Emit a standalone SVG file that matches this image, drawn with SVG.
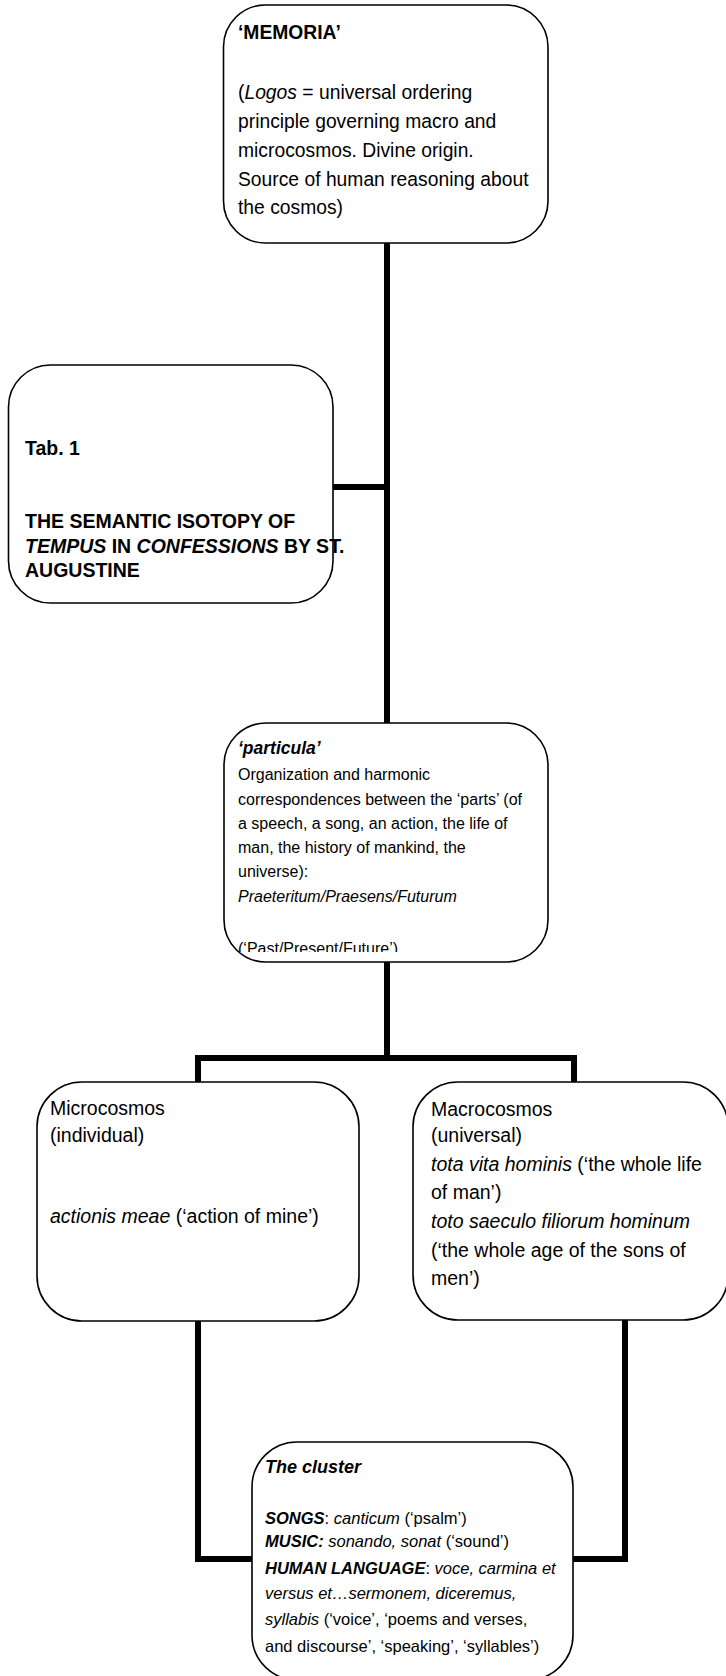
<svg xmlns="http://www.w3.org/2000/svg" width="726" height="1676" viewBox="0 0 726 1676">
<style>
.box{fill:#fff;stroke:#000;stroke-width:1.6}
.con{fill:none;stroke:#000;stroke-width:6;stroke-linejoin:miter;stroke-linecap:butt}
text{font-family:"Liberation Sans",Arial,sans-serif;fill:#000}
.b{font-weight:bold}
.i{font-style:italic}
</style>
<defs>
<clipPath id="clipP"><rect x="224" y="723" width="324" height="229"/></clipPath>
</defs>
<rect width="726" height="1676" fill="#fff"/>
<g id="connectors">
<path class="con" d="M387,243 V723"/>
<path class="con" d="M333,487 H387"/>
<path class="con" d="M387,962 V1058"/>
<path class="con" d="M198,1083 V1058 H574 V1083"/>
<path class="con" d="M198,1321 V1559 H253"/>
<path class="con" d="M625,1320 V1559 H572"/>
</g>
<g id="memoria">
<rect class="box" x="223.5" y="5" width="324.5" height="238" rx="42"/>
<text font-size="19.3">
<tspan x="238" y="39" class="b">‘MEMORIA’</tspan>
<tspan x="238" y="99">(<tspan class="i">Logos</tspan> = universal ordering</tspan>
<tspan x="238" y="128">principle governing macro and</tspan>
<tspan x="238" y="157">microcosmos. Divine origin.</tspan>
<tspan x="238" y="186">Source of human reasoning about</tspan>
<tspan x="238" y="214">the cosmos)</tspan>
</text>
</g>
<g id="tab">
<rect class="box" x="8.5" y="365" width="324.5" height="238" rx="42"/>
<text font-size="19.5" class="b">
<tspan x="25" y="455">Tab. 1</tspan>
<tspan x="25" y="528">THE SEMANTIC ISOTOPY OF</tspan>
<tspan x="25" y="553"><tspan class="i">TEMPUS</tspan> IN <tspan class="i">CONFESSIONS</tspan> BY ST.</tspan>
<tspan x="25" y="577">AUGUSTINE</tspan>
</text>
</g>
<g id="particula">
<rect class="box" x="224" y="723" width="324" height="239" rx="42"/>
<text font-size="17.5" class="b i" x="238" y="754">‘particula’</text>
<text font-size="16" clip-path="url(#clipP)">
<tspan x="238" y="780">Organization and harmonic</tspan>
<tspan x="238" y="805">correspondences between the ‘parts’ (of</tspan>
<tspan x="238" y="829">a speech, a song, an action, the life of</tspan>
<tspan x="238" y="853">man, the history of mankind, the</tspan>
<tspan x="238" y="877">universe):</tspan>
<tspan x="238" y="902" class="i">Praeteritum/Praesens/Futurum</tspan>
<tspan x="238" y="954">(‘Past/Present/Future’)</tspan>
</text>
</g>
<g id="microcosmos">
<rect class="box" x="37" y="1082" width="322" height="239" rx="45"/>
<text font-size="19.5">
<tspan x="50" y="1115">Microcosmos</tspan>
<tspan x="50" y="1142">(individual)</tspan>
<tspan x="50" y="1223"><tspan class="i">actionis meae</tspan> (‘action of mine’)</tspan>
</text>
</g>
<g id="macrocosmos">
<rect class="box" x="413" y="1082" width="315" height="238" rx="45"/>
<text font-size="19.5">
<tspan x="431" y="1116">Macrocosmos</tspan>
<tspan x="431" y="1142">(universal)</tspan>
<tspan x="431" y="1171"><tspan class="i">tota vita hominis</tspan> (‘the whole life</tspan>
<tspan x="431" y="1199">of man’)</tspan>
<tspan x="431" y="1228" class="i">toto saeculo filiorum hominum</tspan>
<tspan x="431" y="1257">(‘the whole age of the sons of</tspan>
<tspan x="431" y="1285">men’)</tspan>
</text>
</g>
<g id="cluster">
<rect class="box" x="252" y="1442" width="321" height="238" rx="45"/>
<text font-size="18" class="b i" x="265" y="1473">The cluster</text>
<text font-size="16.5">
<tspan x="265" y="1524"><tspan class="b i">SONGS</tspan>: <tspan class="i">canticum</tspan> (‘psalm’)</tspan>
<tspan x="265" y="1547"><tspan class="b i">MUSIC:</tspan> <tspan class="i">sonando, sonat</tspan> (‘sound’)</tspan>
<tspan x="265" y="1574"><tspan class="b i">HUMAN LANGUAGE</tspan>: <tspan class="i">voce, carmina et</tspan></tspan>
<tspan x="265" y="1599" class="i">versus et…sermonem, diceremus,</tspan>
<tspan x="265" y="1625"><tspan class="i">syllabis</tspan> (‘voice’, ‘poems and verses,</tspan>
<tspan x="265" y="1652">and discourse’, ‘speaking’, ‘syllables’)</tspan>
</text>
</g>
</svg>
